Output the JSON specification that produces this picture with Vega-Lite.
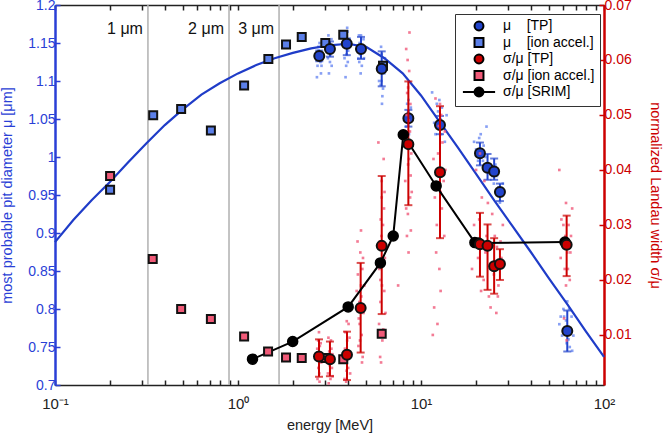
{
  "$schema": "https://vega.github.io/schema/vega-lite/v6.json",
  "width": 549,
  "height": 380,
  "autosize": {"type": "none"},
  "padding": {"left": 55, "top": 5, "right": 59, "bottom": 50},
  "background": "white",
  "config": {
    "font": "Liberation Sans",
    "view": {"stroke": null},
    "axis": {"grid": false, "labelFontSize": 14, "titleFontSize": 14.5, "titleFontWeight": "normal", "tickSize": -5, "tickWidth": 1.5},
    "legend": {"labelFontSize": 14, "symbolStrokeColor": "black", "symbolStrokeWidth": 2}
  },
  "datasets": {
    "fit": [
      {"E": 0.1, "mu": 0.888}, {"E": 0.1259, "mu": 0.917}, {"E": 0.1585, "mu": 0.943}, {"E": 0.1995, "mu": 0.967},
      {"E": 0.2512, "mu": 0.993}, {"E": 0.3162, "mu": 1.018}, {"E": 0.3981, "mu": 1.042}, {"E": 0.5012, "mu": 1.063},
      {"E": 0.631, "mu": 1.082}, {"E": 0.7943, "mu": 1.097}, {"E": 1, "mu": 1.11}, {"E": 1.259, "mu": 1.121},
      {"E": 1.585, "mu": 1.13}, {"E": 1.995, "mu": 1.137}, {"E": 2.512, "mu": 1.143}, {"E": 3.162, "mu": 1.147},
      {"E": 3.981, "mu": 1.149}, {"E": 5.012, "mu": 1.145}, {"E": 6.31, "mu": 1.13}, {"E": 7.943, "mu": 1.11},
      {"E": 10, "mu": 1.081}, {"E": 12.59, "mu": 1.047}, {"E": 15.85, "mu": 1.013}, {"E": 19.95, "mu": 0.978},
      {"E": 25.12, "mu": 0.943}, {"E": 31.62, "mu": 0.909}, {"E": 39.81, "mu": 0.875}, {"E": 50.12, "mu": 0.84},
      {"E": 63.1, "mu": 0.806}, {"E": 79.43, "mu": 0.771}, {"E": 100, "mu": 0.737}
    ],
    "muTP": [
      {"E": 2.78, "mu": 1.133, "lo": 1.126, "hi": 1.14, "series": "μ\u00a0\u00a0\u00a0\u00a0[TP]"},
      {"E": 3.18, "mu": 1.142, "lo": 1.132, "hi": 1.152, "series": "μ\u00a0\u00a0\u00a0\u00a0[TP]"},
      {"E": 3.93, "mu": 1.149, "lo": 1.134, "hi": 1.156, "series": "μ\u00a0\u00a0\u00a0\u00a0[TP]"},
      {"E": 4.7, "mu": 1.142, "lo": 1.129, "hi": 1.158, "series": "μ\u00a0\u00a0\u00a0\u00a0[TP]"},
      {"E": 6.1, "mu": 1.116, "lo": 1.093, "hi": 1.139, "series": "μ\u00a0\u00a0\u00a0\u00a0[TP]"},
      {"E": 8.53, "mu": 1.051, "lo": 1.04, "hi": 1.062, "series": "μ\u00a0\u00a0\u00a0\u00a0[TP]"},
      {"E": 12.7, "mu": 1.042, "lo": 1.03, "hi": 1.054, "series": "μ\u00a0\u00a0\u00a0\u00a0[TP]"},
      {"E": 21.0, "mu": 1.005, "lo": 0.989, "hi": 1.019, "series": "μ\u00a0\u00a0\u00a0\u00a0[TP]"},
      {"E": 23.1, "mu": 0.986, "lo": 0.97, "hi": 1.004, "series": "μ\u00a0\u00a0\u00a0\u00a0[TP]"},
      {"E": 25.1, "mu": 0.981, "lo": 0.97, "hi": 0.998, "series": "μ\u00a0\u00a0\u00a0\u00a0[TP]"},
      {"E": 27.0, "mu": 0.954, "lo": 0.942, "hi": 0.965, "series": "μ\u00a0\u00a0\u00a0\u00a0[TP]"},
      {"E": 63.0, "mu": 0.771, "lo": 0.744, "hi": 0.798, "series": "μ\u00a0\u00a0\u00a0\u00a0[TP]"}
    ],
    "muIon": [
      {"E": 0.2, "mu": 0.957, "series": "μ\u00a0\u00a0\u00a0\u00a0[ion accel.]"},
      {"E": 0.344, "mu": 1.055, "series": "μ\u00a0\u00a0\u00a0\u00a0[ion accel.]"},
      {"E": 0.489, "mu": 1.063, "series": "μ\u00a0\u00a0\u00a0\u00a0[ion accel.]"},
      {"E": 0.711, "mu": 1.035, "series": "μ\u00a0\u00a0\u00a0\u00a0[ion accel.]"},
      {"E": 1.08, "mu": 1.094, "series": "μ\u00a0\u00a0\u00a0\u00a0[ion accel.]"},
      {"E": 1.465, "mu": 1.129, "series": "μ\u00a0\u00a0\u00a0\u00a0[ion accel.]"},
      {"E": 1.83, "mu": 1.148, "series": "μ\u00a0\u00a0\u00a0\u00a0[ion accel.]"},
      {"E": 2.23, "mu": 1.158, "series": "μ\u00a0\u00a0\u00a0\u00a0[ion accel.]"},
      {"E": 3.0, "mu": 1.15, "series": "μ\u00a0\u00a0\u00a0\u00a0[ion accel.]"},
      {"E": 3.76, "mu": 1.161, "series": "μ\u00a0\u00a0\u00a0\u00a0[ion accel.]"},
      {"E": 6.2, "mu": 1.12, "series": "μ\u00a0\u00a0\u00a0\u00a0[ion accel.]"}
    ],
    "sTP": [
      {"E": 2.77, "s": 0.0061, "lo": 0.0024, "hi": 0.0092, "series": "σ/μ [TP]"},
      {"E": 3.18, "s": 0.0056, "lo": 0.0025, "hi": 0.0088, "series": "σ/μ [TP]"},
      {"E": 3.94, "s": 0.0064, "lo": 0.0018, "hi": 0.0106, "series": "σ/μ [TP]"},
      {"E": 4.68, "s": 0.0149, "lo": 0.0068, "hi": 0.0231, "series": "σ/μ [TP]"},
      {"E": 6.1, "s": 0.0262, "lo": 0.0138, "hi": 0.0389, "series": "σ/μ [TP]"},
      {"E": 8.53, "s": 0.0447, "lo": 0.0336, "hi": 0.0561, "series": "σ/μ [TP]"},
      {"E": 12.7, "s": 0.0396, "lo": 0.0276, "hi": 0.0516, "series": "σ/μ [TP]"},
      {"E": 21.0, "s": 0.0265, "lo": 0.0206, "hi": 0.0322, "series": "σ/μ [TP]"},
      {"E": 23.1, "s": 0.0262, "lo": 0.0182, "hi": 0.0301, "series": "σ/μ [TP]"},
      {"E": 25.1, "s": 0.0225, "lo": 0.0175, "hi": 0.0276, "series": "σ/μ [TP]"},
      {"E": 27.0, "s": 0.0229, "lo": 0.02, "hi": 0.0256, "series": "σ/μ [TP]"},
      {"E": 62.5, "s": 0.0264, "lo": 0.0207, "hi": 0.0317, "series": "σ/μ [TP]"}
    ],
    "sIon": [
      {"E": 0.2, "s": 0.0389, "series": "σ/μ [ion accel.]"},
      {"E": 0.342, "s": 0.0238, "series": "σ/μ [ion accel.]"},
      {"E": 0.489, "s": 0.0147, "series": "σ/μ [ion accel.]"},
      {"E": 0.711, "s": 0.0129, "series": "σ/μ [ion accel.]"},
      {"E": 1.08, "s": 0.0097, "series": "σ/μ [ion accel.]"},
      {"E": 1.46, "s": 0.007, "series": "σ/μ [ion accel.]"},
      {"E": 1.83, "s": 0.0059, "series": "σ/μ [ion accel.]"},
      {"E": 2.23, "s": 0.0058, "series": "σ/μ [ion accel.]"},
      {"E": 3.0, "s": 0.0058, "series": "σ/μ [ion accel.]"},
      {"E": 3.76, "s": 0.0056, "series": "σ/μ [ion accel.]"},
      {"E": 6.1, "s": 0.0102, "series": "σ/μ [ion accel.]"}
    ],
    "srim": [
      {"E": 1.2, "s": 0.0056, "series": "σ/μ [SRIM]"},
      {"E": 1.99, "s": 0.0088, "series": "σ/μ [SRIM]"},
      {"E": 4.0, "s": 0.0151, "series": "σ/μ [SRIM]"},
      {"E": 6.0, "s": 0.0231, "series": "σ/μ [SRIM]"},
      {"E": 7.05, "s": 0.028, "series": "σ/μ [SRIM]"},
      {"E": 8.0, "s": 0.0464, "series": "σ/μ [SRIM]"},
      {"E": 12.1, "s": 0.0371, "series": "σ/μ [SRIM]"},
      {"E": 19.7, "s": 0.0268, "series": "σ/μ [SRIM]"},
      {"E": 20.6, "s": 0.0267, "series": "σ/μ [SRIM]"},
      {"E": 61.2, "s": 0.0269, "series": "σ/μ [SRIM]"}
    ],
    "vlines": [
      {"E": 0.322, "mu": 1.168, "label": "1 μm"},
      {"E": 0.893, "mu": 1.168, "label": "2 μm"},
      {"E": 1.676, "mu": 1.168, "label": "3 μm"}
    ],
    "dotsMu": [
      {"E": 2.72, "mu": 1.12}, {"E": 2.76, "mu": 1.14}, {"E": 2.8, "mu": 1.13}, {"E": 2.84, "mu": 1.11}, {"E": 2.75, "mu": 1.145}, {"E": 2.82, "mu": 1.125},
      {"E": 2.7, "mu": 1.105}, {"E": 2.79, "mu": 1.15}, {"E": 2.73, "mu": 1.135}, {"E": 2.86, "mu": 1.12},
      {"E": 3.1, "mu": 1.13}, {"E": 3.15, "mu": 1.15}, {"E": 3.22, "mu": 1.14}, {"E": 3.25, "mu": 1.12}, {"E": 3.12, "mu": 1.16}, {"E": 3.2, "mu": 1.135},
      {"E": 3.08, "mu": 1.145}, {"E": 3.18, "mu": 1.125}, {"E": 3.24, "mu": 1.155}, {"E": 3.14, "mu": 1.11}, {"E": 3.3, "mu": 1.14},
      {"E": 3.82, "mu": 1.13}, {"E": 3.88, "mu": 1.16}, {"E": 3.95, "mu": 1.17}, {"E": 4.0, "mu": 1.14}, {"E": 3.9, "mu": 1.12}, {"E": 4.05, "mu": 1.155}, {"E": 3.85, "mu": 1.145},
      {"E": 3.8, "mu": 1.15}, {"E": 3.92, "mu": 1.135}, {"E": 3.98, "mu": 1.125}, {"E": 4.08, "mu": 1.145}, {"E": 3.87, "mu": 1.105}, {"E": 3.97, "mu": 1.165},
      {"E": 4.55, "mu": 1.13}, {"E": 4.62, "mu": 1.15}, {"E": 4.7, "mu": 1.16}, {"E": 4.8, "mu": 1.14}, {"E": 4.6, "mu": 1.125}, {"E": 4.85, "mu": 1.155}, {"E": 4.75, "mu": 1.12},
      {"E": 4.5, "mu": 1.14}, {"E": 4.65, "mu": 1.135}, {"E": 4.72, "mu": 1.145}, {"E": 4.88, "mu": 1.13}, {"E": 4.58, "mu": 1.16}, {"E": 4.68, "mu": 1.11},
      {"E": 5.9, "mu": 1.1}, {"E": 6.0, "mu": 1.12}, {"E": 6.1, "mu": 1.135}, {"E": 6.2, "mu": 1.09}, {"E": 6.3, "mu": 1.11}, {"E": 6.05, "mu": 1.145}, {"E": 6.15, "mu": 1.08}, {"E": 5.95, "mu": 1.125},
      {"E": 5.85, "mu": 1.115}, {"E": 6.08, "mu": 1.1}, {"E": 6.25, "mu": 1.125}, {"E": 6.12, "mu": 1.07}, {"E": 6.02, "mu": 1.095}, {"E": 6.35, "mu": 1.13},
      {"E": 8.3, "mu": 1.04}, {"E": 8.5, "mu": 1.06}, {"E": 8.7, "mu": 1.05}, {"E": 8.4, "mu": 1.07}, {"E": 8.6, "mu": 1.03},
      {"E": 8.25, "mu": 1.055}, {"E": 8.45, "mu": 1.045}, {"E": 8.8, "mu": 1.065}, {"E": 8.55, "mu": 1.075}, {"E": 8.35, "mu": 1.02},
      {"E": 12.0, "mu": 1.03}, {"E": 12.4, "mu": 1.06}, {"E": 12.8, "mu": 1.05}, {"E": 13.2, "mu": 1.04}, {"E": 12.6, "mu": 1.075}, {"E": 13.5, "mu": 1.02},
      {"E": 11.8, "mu": 1.045}, {"E": 12.2, "mu": 1.07}, {"E": 12.9, "mu": 1.03}, {"E": 13.0, "mu": 1.065}, {"E": 12.5, "mu": 1.04}, {"E": 13.8, "mu": 1.055}, {"E": 11.5, "mu": 1.085},
      {"E": 20.0, "mu": 1.01}, {"E": 20.8, "mu": 1.025}, {"E": 21.8, "mu": 0.995}, {"E": 22.5, "mu": 1.0}, {"E": 23.5, "mu": 0.98}, {"E": 24.5, "mu": 0.975}, {"E": 25.5, "mu": 0.99}, {"E": 26.5, "mu": 0.96}, {"E": 27.5, "mu": 0.95}, {"E": 28.0, "mu": 0.965}, {"E": 21.2, "mu": 1.03},
      {"E": 19.5, "mu": 1.02}, {"E": 20.5, "mu": 0.995}, {"E": 22.0, "mu": 1.015}, {"E": 23.0, "mu": 0.99}, {"E": 24.0, "mu": 0.985}, {"E": 25.0, "mu": 0.965}, {"E": 26.0, "mu": 0.975}, {"E": 27.0, "mu": 0.94}, {"E": 28.5, "mu": 0.955}, {"E": 22.8, "mu": 1.04},
      {"E": 58, "mu": 0.79}, {"E": 60, "mu": 0.8}, {"E": 61, "mu": 0.775}, {"E": 62, "mu": 0.785}, {"E": 64, "mu": 0.76}, {"E": 65, "mu": 0.75}, {"E": 66, "mu": 0.77}, {"E": 59, "mu": 0.765}, {"E": 63, "mu": 0.81}, {"E": 67, "mu": 0.745},
      {"E": 57, "mu": 0.78}, {"E": 60.5, "mu": 0.79}, {"E": 62.5, "mu": 0.755}, {"E": 64.5, "mu": 0.8}, {"E": 66.5, "mu": 0.79}, {"E": 68, "mu": 0.765}
    ],
    "dotsS": [
      {"E": 2.72, "s": 0.002}, {"E": 2.75, "s": 0.004}, {"E": 2.8, "s": 0.008}, {"E": 2.74, "s": 0.009}, {"E": 2.78, "s": 0.003}, {"E": 2.82, "s": 0.006}, {"E": 2.7, "s": 0.0065}, {"E": 2.77, "s": 0.0105}, {"E": 2.85, "s": 0.005},
      {"E": 2.71, "s": 0.0075}, {"E": 2.79, "s": 0.0015}, {"E": 2.83, "s": 0.0085}, {"E": 2.76, "s": 0.0055},
      {"E": 3.1, "s": 0.003}, {"E": 3.15, "s": 0.007}, {"E": 3.22, "s": 0.009}, {"E": 3.26, "s": 0.004}, {"E": 3.12, "s": 0.0095}, {"E": 3.2, "s": 0.002}, {"E": 3.28, "s": 0.0065},
      {"E": 3.09, "s": 0.0055}, {"E": 3.17, "s": 0.0045}, {"E": 3.24, "s": 0.0075}, {"E": 3.29, "s": 0.0025}, {"E": 3.13, "s": 0.0012},
      {"E": 3.82, "s": 0.002}, {"E": 3.88, "s": 0.005}, {"E": 3.95, "s": 0.009}, {"E": 4.02, "s": 0.012}, {"E": 3.9, "s": 0.0015}, {"E": 4.05, "s": 0.007}, {"E": 3.86, "s": 0.0105}, {"E": 4.0, "s": 0.004},
      {"E": 3.84, "s": 0.0075}, {"E": 3.92, "s": 0.0035}, {"E": 3.98, "s": 0.0065}, {"E": 4.07, "s": 0.0095}, {"E": 3.93, "s": 0.0125}, {"E": 4.1, "s": 0.003},
      {"E": 4.55, "s": 0.008}, {"E": 4.62, "s": 0.012}, {"E": 4.7, "s": 0.019}, {"E": 4.78, "s": 0.022}, {"E": 4.6, "s": 0.016}, {"E": 4.85, "s": 0.014}, {"E": 4.66, "s": 0.025}, {"E": 4.74, "s": 0.01}, {"E": 4.5, "s": 0.027}, {"E": 4.8, "s": 0.006}, {"E": 4.45, "s": 0.018},
      {"E": 4.52, "s": 0.021}, {"E": 4.64, "s": 0.009}, {"E": 4.72, "s": 0.017}, {"E": 4.82, "s": 0.024}, {"E": 4.57, "s": 0.013}, {"E": 4.9, "s": 0.019}, {"E": 4.7, "s": 0.029}, {"E": 4.76, "s": 0.005},
      {"E": 5.9, "s": 0.012}, {"E": 6.0, "s": 0.02}, {"E": 6.1, "s": 0.035}, {"E": 6.2, "s": 0.03}, {"E": 6.05, "s": 0.005}, {"E": 6.3, "s": 0.018}, {"E": 5.95, "s": 0.027}, {"E": 6.15, "s": 0.009}, {"E": 6.25, "s": 0.042}, {"E": 6.1, "s": 0.038}, {"E": 5.85, "s": 0.045}, {"E": 6.35, "s": 0.024}, {"E": 6.4, "s": 0.014}, {"E": 6.0, "s": 0.016},
      {"E": 5.92, "s": 0.022}, {"E": 6.02, "s": 0.031}, {"E": 6.12, "s": 0.019}, {"E": 6.22, "s": 0.011}, {"E": 6.32, "s": 0.036}, {"E": 6.08, "s": 0.028}, {"E": 6.18, "s": 0.024}, {"E": 5.98, "s": 0.006}, {"E": 6.28, "s": 0.033},
      {"E": 8.2, "s": 0.038}, {"E": 8.35, "s": 0.05}, {"E": 8.5, "s": 0.055}, {"E": 8.6, "s": 0.042}, {"E": 8.7, "s": 0.047}, {"E": 8.3, "s": 0.033}, {"E": 8.8, "s": 0.029}, {"E": 8.45, "s": 0.06}, {"E": 8.9, "s": 0.036}, {"E": 8.55, "s": 0.025}, {"E": 8.4, "s": 0.044}, {"E": 8.75, "s": 0.052}, {"E": 8.65, "s": 0.065}, {"E": 8.3, "s": 0.062}, {"E": 7.5, "s": 0.019},
      {"E": 8.25, "s": 0.047}, {"E": 8.4, "s": 0.054}, {"E": 8.5, "s": 0.041}, {"E": 8.62, "s": 0.058}, {"E": 8.72, "s": 0.035}, {"E": 8.85, "s": 0.043}, {"E": 8.38, "s": 0.028}, {"E": 8.58, "s": 0.049}, {"E": 8.78, "s": 0.039}, {"E": 8.48, "s": 0.032},
      {"E": 11.7, "s": 0.042}, {"E": 12.2, "s": 0.03}, {"E": 12.5, "s": 0.048}, {"E": 12.8, "s": 0.036}, {"E": 13.1, "s": 0.045}, {"E": 12.0, "s": 0.053}, {"E": 13.4, "s": 0.028}, {"E": 12.6, "s": 0.022}, {"E": 11.8, "s": 0.015}, {"E": 12.9, "s": 0.05}, {"E": 13.6, "s": 0.04}, {"E": 12.3, "s": 0.012},
      {"E": 11.9, "s": 0.035}, {"E": 12.4, "s": 0.043}, {"E": 12.7, "s": 0.052}, {"E": 13.0, "s": 0.033}, {"E": 13.3, "s": 0.038}, {"E": 12.1, "s": 0.025}, {"E": 12.8, "s": 0.018}, {"E": 13.5, "s": 0.047}, {"E": 11.6, "s": 0.01},
      {"E": 19.5, "s": 0.03}, {"E": 20.5, "s": 0.024}, {"E": 21.5, "s": 0.035}, {"E": 22.0, "s": 0.02}, {"E": 22.8, "s": 0.028}, {"E": 23.5, "s": 0.017}, {"E": 24.5, "s": 0.032}, {"E": 25.0, "s": 0.021}, {"E": 26.0, "s": 0.026}, {"E": 26.5, "s": 0.019}, {"E": 27.5, "s": 0.024}, {"E": 28.0, "s": 0.03}, {"E": 20.0, "s": 0.04}, {"E": 21.0, "s": 0.043}, {"E": 24.0, "s": 0.015}, {"E": 19.0, "s": 0.022},
      {"E": 19.8, "s": 0.027}, {"E": 20.8, "s": 0.031}, {"E": 21.3, "s": 0.018}, {"E": 22.5, "s": 0.025}, {"E": 23.2, "s": 0.034}, {"E": 24.2, "s": 0.023}, {"E": 25.3, "s": 0.028}, {"E": 26.3, "s": 0.017}, {"E": 27.2, "s": 0.027}, {"E": 22.2, "s": 0.038}, {"E": 25.8, "s": 0.014},
      {"E": 59, "s": 0.027}, {"E": 60, "s": 0.03}, {"E": 61, "s": 0.022}, {"E": 62, "s": 0.034}, {"E": 63, "s": 0.025}, {"E": 64, "s": 0.03}, {"E": 65, "s": 0.02}, {"E": 66, "s": 0.028}, {"E": 60.5, "s": 0.013}, {"E": 62.5, "s": 0.009}, {"E": 58, "s": 0.024}, {"E": 67, "s": 0.033}, {"E": 57, "s": 0.04},
      {"E": 58.5, "s": 0.031}, {"E": 61.5, "s": 0.028}, {"E": 63.5, "s": 0.022}, {"E": 65.5, "s": 0.025}, {"E": 62, "s": 0.019}
    ]
  },
  "layer": [
    {
      "encoding": {
        "x": {
          "field": "E", "type": "quantitative",
          "scale": {"type": "log", "domain": [0.1, 100]},
          "axis": {
            "orient": "bottom", "title": "energy [MeV]", "titlePadding": 7,
            "values": [0.1, 0.2, 0.3, 0.4, 0.5, 0.6, 0.7, 0.8, 0.9, 1, 2, 3, 4, 5, 6, 7, 8, 9, 10, 20, 30, 40, 50, 60, 70, 80, 90, 100],
            "labelExpr": "datum.value == 0.1 ? '10⁻¹' : datum.value == 1 ? '10⁰' : datum.value == 10 ? '10¹' : datum.value == 100 ? '10²' : ''",
            "labelFlush": false, "labelOverlap": false, "labelPadding": 16, "labelFontSize": 15,
            "domainColor": "#222222", "domainWidth": 1.5, "tickColor": "#222222", "labelColor": "#222222", "titleColor": "#222222"
          }
        },
        "y": {
          "field": "mu", "type": "quantitative",
          "scale": {"domain": [0.7, 1.2], "zero": false},
          "title": "most probable pit diameter  μ [μm]",
          "axis": {
            "orient": "left",
            "values": [0.7, 0.75, 0.8, 0.85, 0.9, 0.95, 1, 1.05, 1.1, 1.15, 1.2],
            "format": "~g",
            "labelColor": "#2a3fd6", "titleColor": "#2a3fd6", "domainColor": "#2a3fd6", "tickColor": "#2a3fd6",
            "domainWidth": 2.5, "labelPadding": 5, "titlePadding": 13
          }
        }
      },
      "layer": [
        {
          "data": {"name": "vlines"},
          "mark": {"type": "rule", "color": "#b0b0b0", "strokeWidth": 1.5},
          "encoding": {"y": null}
        },
        {
          "data": {"name": "vlines"},
          "mark": {"type": "text", "align": "right", "baseline": "middle", "dx": -5, "fontSize": 16, "color": "#111111"},
          "encoding": {"text": {"field": "label"}}
        },
        {
          "data": {"name": "dotsMu"},
          "mark": {"type": "square", "size": 7, "color": "#6080f0", "opacity": 0.75}
        },
        {
          "data": {"name": "fit"},
          "mark": {"type": "line", "color": "#1f3cc8", "strokeWidth": 2.2}
        },
        {
          "data": {"name": "muTP"},
          "mark": {"type": "errorbar", "color": "#2244cc", "ticks": {"size": 8, "thickness": 2}, "rule": {"strokeWidth": 2}},
          "encoding": {
            "y": {"field": "lo", "type": "quantitative", "scale": {"domain": [0.7, 1.2], "zero": false}, "title": "most probable pit diameter  μ [μm]"},
            "y2": {"field": "hi"}
          }
        },
        {
          "data": {"name": "muIon"},
          "mark": {"type": "point", "filled": true, "size": 64, "stroke": "#111111", "strokeWidth": 2, "opacity": 1},
          "encoding": {
            "color": {"field": "series", "type": "nominal"},
            "shape": {"field": "series", "type": "nominal"}
          }
        },
        {
          "data": {"name": "muTP"},
          "mark": {"type": "point", "filled": true, "size": 100, "stroke": "#111111", "strokeWidth": 2, "opacity": 1},
          "encoding": {
            "color": {"field": "series", "type": "nominal"},
            "shape": {"field": "series", "type": "nominal"}
          }
        }
      ]
    },
    {
      "encoding": {
        "x": {
          "field": "E", "type": "quantitative",
          "scale": {"type": "log", "domain": [0.1, 100]},
          "axis": {
            "orient": "top", "title": null, "labels": false,
            "values": [0.1, 0.2, 0.3, 0.4, 0.5, 0.6, 0.7, 0.8, 0.9, 1, 2, 3, 4, 5, 6, 7, 8, 9, 10, 20, 30, 40, 50, 60, 70, 80, 90, 100],
            "domainColor": "#222222", "domainWidth": 1.5, "tickColor": "#222222"
          }
        },
        "y": {
          "field": "s", "type": "quantitative",
          "scale": {"domain": [0.0009, 0.07], "zero": false},
          "title": "normalized Landau width σ/μ",
          "axis": {
            "orient": "right",
            "values": [0.01, 0.02, 0.03, 0.04, 0.05, 0.06, 0.07],
            "format": "~g",
            "labelColor": "#cc0000", "titleColor": "#cc0000", "domainColor": "#cc0000", "tickColor": "#cc0000",
            "domainWidth": 2.5, "labelPadding": 5, "titlePadding": 16
          }
        }
      },
      "layer": [
        {
          "data": {"name": "dotsS"},
          "mark": {"type": "square", "size": 7, "color": "#f05a7a", "opacity": 0.8}
        },
        {
          "data": {"name": "sTP"},
          "mark": {"type": "errorbar", "color": "#cc0000", "ticks": {"size": 8, "thickness": 2}, "rule": {"strokeWidth": 2}},
          "encoding": {
            "y": {"field": "lo", "type": "quantitative", "scale": {"domain": [0.0009, 0.07], "zero": false}, "title": "normalized Landau width σ/μ"},
            "y2": {"field": "hi"}
          }
        },
        {
          "data": {"name": "srim"},
          "mark": {"type": "line", "color": "#000000", "strokeWidth": 2}
        },
        {
          "data": {"name": "srim"},
          "mark": {"type": "point", "shape": "circle", "filled": true, "size": 100, "stroke": "#000000", "strokeWidth": 1.5, "opacity": 1},
          "encoding": {
            "color": {"field": "series", "type": "nominal"}
          }
        },
        {
          "data": {"name": "sIon"},
          "mark": {"type": "point", "filled": true, "size": 64, "stroke": "#111111", "strokeWidth": 2, "opacity": 1},
          "encoding": {
            "color": {"field": "series", "type": "nominal"},
            "shape": {"field": "series", "type": "nominal"}
          }
        },
        {
          "data": {"name": "sTP"},
          "mark": {"type": "point", "filled": true, "size": 100, "stroke": "#111111", "strokeWidth": 2, "opacity": 1},
          "encoding": {
            "color": {
              "field": "series", "type": "nominal",
              "scale": {
                "domain": ["μ\u00a0\u00a0\u00a0\u00a0[TP]", "μ\u00a0\u00a0\u00a0\u00a0[ion accel.]", "σ/μ [TP]", "σ/μ [ion accel.]", "σ/μ [SRIM]"],
                "range": ["#2244cc", "#5b7fe8", "#cc0000", "#f05a78", "#000000"]
              },
              "legend": {
                "title": null, "orient": "none", "legendX": 400, "legendY": 9,
                "strokeColor": "#333333", "fillColor": "white", "padding": 5, "rowPadding": -1.5, "symbolSize": 80, "symbolOffset": 12, "labelOffset": 17
              }
            },
            "shape": {
              "field": "series", "type": "nominal",
              "scale": {
                "domain": ["μ\u00a0\u00a0\u00a0\u00a0[TP]", "μ\u00a0\u00a0\u00a0\u00a0[ion accel.]", "σ/μ [TP]", "σ/μ [ion accel.]", "σ/μ [SRIM]"],
                "range": ["circle", "square", "circle", "square", "M-3.6,0H-1M1,0H3.6M1,0A1,1,0,1,1,-1,0A1,1,0,1,1,1,0Z"]
              },
              "legend": {
                "title": null, "orient": "none", "legendX": 400, "legendY": 9,
                "strokeColor": "#333333", "fillColor": "white", "padding": 5, "rowPadding": -1.5, "symbolSize": 80, "symbolOffset": 12, "labelOffset": 17
              }
            }
          }
        }
      ]
    }
  ],
  "resolve": {"scale": {"y": "independent", "color": "shared", "shape": "shared"}, "axis": {"x": "independent"}}
}
